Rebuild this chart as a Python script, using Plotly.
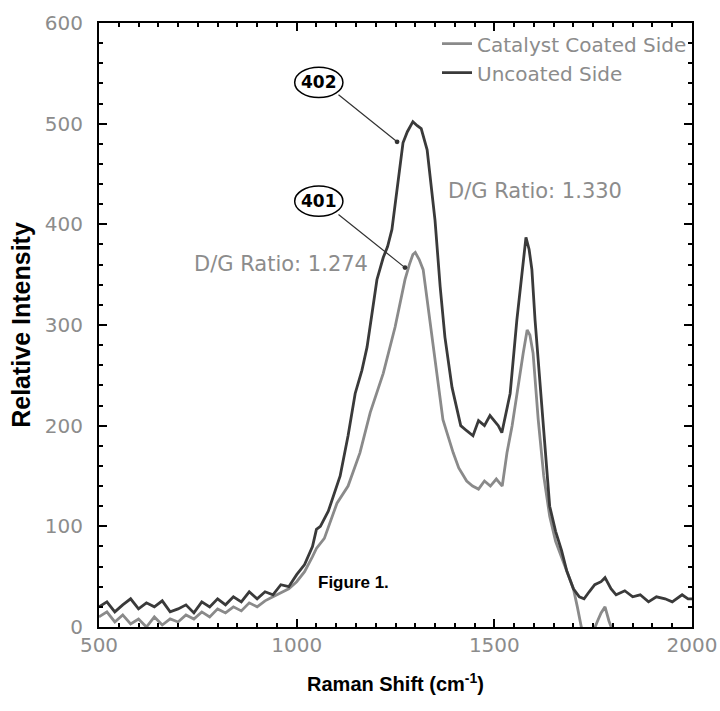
import plotly.graph_objects as go

# Uncoated Side (upper trace, "402")
unc_x = [500, 520, 540, 560, 580, 600, 620, 640, 660, 680, 700, 720, 740, 760, 780, 800, 820, 840, 860, 880,
         900, 920, 940, 960, 980, 1000, 1020, 1040, 1050, 1060, 1080, 1100, 1110, 1130, 1148, 1165, 1178, 1190,
         1203, 1219, 1230, 1241, 1256, 1269, 1280, 1294, 1305, 1315, 1330, 1337, 1350, 1363, 1375, 1393, 1405,
         1415, 1430, 1446, 1460, 1475, 1489, 1500, 1510, 1519, 1530, 1540, 1557, 1570, 1580, 1588, 1595, 1603,
         1616, 1628, 1640, 1655, 1670, 1683, 1700, 1715, 1727, 1740, 1754, 1770, 1780, 1795, 1808, 1830, 1850,
         1869, 1890, 1910, 1932, 1950, 1975, 1990, 2000]
unc_y = [20, 25, 15, 22, 28, 18, 24, 20, 26, 15, 18, 22, 14, 25, 20, 28, 22, 30, 25, 35,
         28, 35, 32, 42, 40, 52, 62, 80, 97, 100, 115, 140, 150, 190, 232, 255, 278, 310,
         345, 367, 378, 395, 441, 481, 492, 502, 498, 495, 474, 447, 404, 338, 288, 238, 218,
         200, 195, 190, 205, 200, 210, 205, 200, 193, 215, 232, 305, 355, 387, 375, 355, 305,
         238, 173, 120, 95, 76, 56, 38, 30, 28, 35, 42, 45, 49, 38, 32, 36, 30,
         32, 25, 30, 28, 25, 32, 28, 28]

# Catalyst Coated Side (lower trace, "401")
cat_x = [500, 520, 540, 560, 580, 600, 620, 640, 660, 680, 700, 720, 740, 760, 780, 800, 820, 840, 860, 880,
         900, 920, 940, 960, 980, 1000, 1020, 1040, 1050, 1070, 1090, 1102, 1130, 1160, 1186, 1219, 1249, 1274,
         1285, 1294, 1300, 1310, 1320, 1337, 1355, 1370, 1396, 1410, 1430, 1445, 1460, 1475, 1490, 1505, 1520,
         1532, 1545, 1557, 1573, 1583, 1590, 1598, 1611, 1625, 1640, 1655, 1670, 1685, 1700, 1710, 1720, 1735,
         1750, 1760, 1770, 1780, 1790, 1800, 1820, 1850, 1900, 1950, 2000]
cat_y = [10, 15, 5, 12, 3, 8, 0, 10, 2, 8, 5, 12, 8, 15, 10, 18, 14, 20, 16, 24,
         20, 26, 30, 34, 38, 45, 55, 70, 78, 88, 110, 123, 140, 173, 213, 252, 298, 345,
         360, 370, 372, 365, 355, 305, 255, 206, 173, 158, 145, 140, 137, 145, 140, 147, 140,
         173, 200, 232, 272, 295, 290, 272, 206, 150, 110, 85, 70, 55, 38, 20, 0, -10,
         -5, 5, 14, 20, 6, -5, -15, -20, -18, -22, -20]

x_ticks = [500, 1000, 1500, 2000]
y_ticks = [0, 100, 200, 300, 400, 500, 600]

fig = go.Figure()
fig.add_trace(go.Scatter(x=cat_x, y=cat_y, mode="lines", name="Catalyst Coated Side",
                         line=dict(color="#8a8a8a", width=2.8)))
fig.add_trace(go.Scatter(x=unc_x, y=unc_y, mode="lines", name="Uncoated Side",
                         line=dict(color="#3a3a3a", width=2.8)))

tick_font = dict(family="DejaVu Sans", size=20, color="#8c8c8c")
axis_common = dict(showline=True, linecolor="black", linewidth=2, mirror="allticks",
                   ticks="inside", ticklen=8, tickwidth=1.5, tickcolor="black",
                   showgrid=False, zeroline=False, tickfont=tick_font, automargin=False)

fig.update_xaxes(range=[500, 2000], tickvals=x_ticks, ticktext=[str(v) for v in x_ticks],
                 minor=dict(dtick=50, tick0=500, ticks="inside", ticklen=4, tickcolor="black"),
                 title=dict(text="<b>Raman Shift (cm<sup>-1</sup>)</b>", standoff=21,
                            font=dict(family="Liberation Sans", size=20, color="black")),
                 ticklabelstandoff=-1,
                 **axis_common)
fig.update_yaxes(range=[0, 600], tickvals=y_ticks, ticktext=[str(v) for v in y_ticks],
                 minor=dict(dtick=20, tick0=0, ticks="inside", ticklen=4, tickcolor="black"),
                 title=dict(text="<b>Relative Intensity</b>", standoff=7,
                            font=dict(family="Liberation Sans", size=25, color="black")),
                 ticklabelstandoff=10,
                 **axis_common)

ann_font = dict(family="DejaVu Sans", size=21, color="#8c8c8c")
fig.add_annotation(x=1603, y=433, text="D/G Ratio: 1.330", showarrow=False, font=ann_font)
fig.add_annotation(x=960, y=361, text="D/G Ratio: 1.274", showarrow=False, font=ann_font)
fig.add_annotation(x=1145, y=44, text="<b>Figure 1.</b>", showarrow=False,
                   font=dict(family="Liberation Sans", size=17, color="black"))

# labels 402 / 401 in ellipses with leader arrows
for lbl, cx, cy, tx, ty, hx, hy in [("402", 1056, 541, 1102, 530, 1254, 482),
                                    ("401", 1056, 423, 1102, 411, 1274, 357)]:
    fig.add_shape(type="circle", x0=cx - 61, x1=cx + 61, y0=cy - 15, y1=cy + 15,
                  line=dict(color="black", width=1.5))
    fig.add_annotation(x=cx, y=cy, text="<b>" + lbl + "</b>", showarrow=False,
                       font=dict(family="DejaVu Sans", size=17, color="black"))
    fig.add_annotation(x=hx, y=hy, ax=tx, ay=ty, axref="x", ayref="y",
                       text="", showarrow=True, arrowhead=6, arrowsize=1, arrowwidth=1.2,
                       arrowcolor="#333333")

fig.update_layout(width=720, height=711, margin=dict(l=99, r=28, t=23, b=84, autoexpand=False),
                  plot_bgcolor="white", paper_bgcolor="white",
                  legend=dict(x=1.0, xanchor="right", y=0.998, yanchor="top", bgcolor="rgba(0,0,0,0)",
                              font=dict(family="DejaVu Sans", size=20, color="#8c8c8c"),
                              tracegroupgap=0, itemwidth=30),
                  showlegend=True)

# remove the default 8px page margin so the figure fills the 720x711 window exactly
fig.write_html("out.html", config={"displayModeBar": False},
               post_script="document.body.style.margin='0';")
